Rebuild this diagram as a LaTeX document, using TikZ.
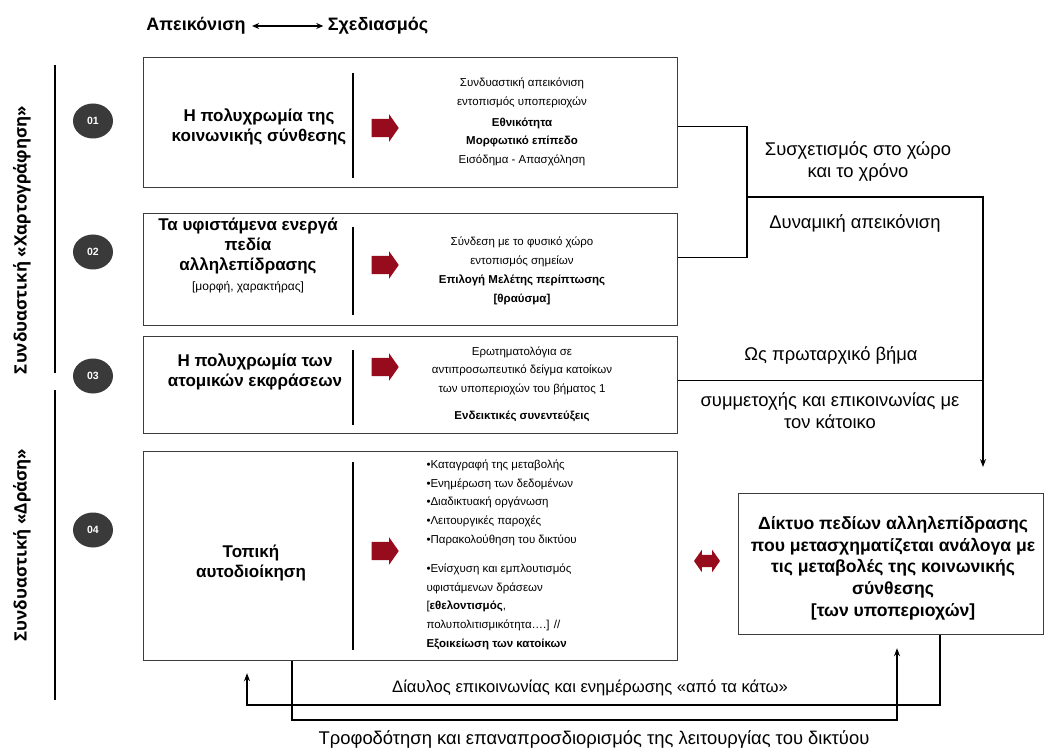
\documentclass[tikz,border=0pt]{standalone}
\usepackage{fontspec}
\setmainfont{Liberation Sans}
\newfontfamily\sidefont{Open Sans}
\usetikzlibrary{calc,shapes,arrows.meta,positioning}
\definecolor{arrowred}{RGB}{150,12,28}
\definecolor{discgray}{RGB}{58,58,58}
\definecolor{framegray}{RGB}{60,60,60}

\begin{document}
\begin{tikzpicture}[x=1pt,y=-1pt,
  frame/.style={draw=framegray,line width=1.2pt,anchor=north west,inner sep=0pt,minimum width=534pt},
  lefttext/.style={align=center,font=\bfseries\fontsize{17}{20}\selectfont},
  righttext/.style={align=center,font=\fontsize{11.5}{18.8}\selectfont},
  disc/.style={ellipse,fill=discgray,minimum width=40pt,minimum height=35pt,inner sep=0pt,
    text=white,font=\bfseries\fontsize{10.5}{12}\selectfont},
  blockarrow/.style={single arrow,fill=arrowred,minimum height=27pt,inner xsep=0pt,inner ysep=9pt,
    single arrow head extend=4.5pt,single arrow tip angle=110},
  sidelabel/.style={rotate=90,font=\sidefont\bfseries\fontsize{17}{19}\selectfont},
  note/.style={align=center,font=\fontsize{18.4}{22}\selectfont},
  link/.style={line width=1.1pt}]
  \useasboundingbox (0,0) rectangle (1049,751);

  % top
  \node[font=\bfseries\fontsize{18}{20}\selectfont] (apeik) at (196,26) {Απεικόνιση};
  \node[font=\bfseries\fontsize{18}{20}\selectfont] (sxedias) at (378,26) {Σχεδιασμός};
  \draw[link,{Stealth[length=7pt,width=6pt]}-{Stealth[length=7pt,width=6pt]}]
    ([xshift=3pt]apeik.east) -- ([xshift=-1pt]sxedias.west);

  % side labels
  \node[sidelabel] (mapping) at (22,240) {Συνδυαστική «Χαρτογράφηση»};
  \node[sidelabel] (action) at (22,545) {Συνδυαστική «Δράση»};
  \draw[link] (55,65) -- (55,373);
  \draw[link] (55,390) -- (55,700);

  % frames
  \node[frame,minimum height=130pt] (box1) at (143,57) {};
  \node[frame,minimum height=112pt] (box2) at (143,213) {};
  \node[frame,minimum height=97pt] (box3) at (143,336) {};
  \node[frame,minimum height=209pt] (box4) at (143,451) {};
  \draw[link] (353,73) -- (353,178);
  \draw[link] (353,227) -- (353,315);
  \draw[link] (353,350) -- (353,425);
  \draw[link] (353,462) -- (353,650);

  % numbers
  \foreach \num/\ypos in {01/121,02/252,03/376,04/530}
    \node[disc] (disc\num) at (93,\ypos) {\num};

  % red arrows
  \foreach \idx/\ypos in {1/128,2/265,3/367,4/551}
    \node[blockarrow] (arr\idx) at (382,\ypos) {};

  % left texts
  \node[lefttext] (t1) at (259,127) {Η πολυχρωμία της\\κοινωνικής σύνθεσης};
  \node[lefttext] (t2) at (248,255) {Τα υφιστάμενα ενεργά\\πεδία\\αλληλεπίδρασης\\
    {\normalfont\fontsize{12}{14}\selectfont [μορφή, χαρακτήρας]}};
  \node[lefttext] (t3) at (255,372) {Η πολυχρωμία των\\ατομικών εκφράσεων};
  \node[lefttext] (t4) at (251,563) {Τοπική\\αυτοδιοίκηση};

  % right texts
  \node[righttext] (r1) at (522,122) {Συνδυαστική απεικόνιση\\εντοπισμός υποπεριοχών\\[2pt]
    \textbf{Εθνικότητα}\\\textbf{Μορφωτικό επίπεδο}\\Εισόδημα - Απασχόληση};
  \node[righttext] (r2) at (522,271) {Σύνδεση με το φυσικό χώρο\\εντοπισμός σημείων\\
    \textbf{Επιλογή Μελέτης περίπτωσης}\\\textbf{[θραύσμα]}};
  \node[righttext] (r3) at (522,384) {Ερωτηματολόγια σε\\αντιπροσωπευτικό δείγμα κατοίκων\\
    των υποπεριοχών του βήματος 1\\[8pt]\textbf{Ενδεικτικές συνεντεύξεις}};
  \node[righttext,align=left,anchor=north west] (r4) at (423,456) {•Καταγραφή της μεταβολής\\
    •Ενημέρωση των δεδομένων\\•Διαδικτυακή οργάνωση\\•Λειτουργικές παροχές\\
    •Παρακολούθηση του δικτύου\\[10pt]•Ενίσχυση και εμπλουτισμός\\υφιστάμενων δράσεων\\
    {}[\textbf{εθελοντισμός},\\πολυπολιτισμικότητα….] //\\\textbf{Εξοικείωση των κατοίκων}};

  % network box
  \node[draw=framegray,line width=1.2pt,anchor=north west,minimum width=305pt,minimum height=141pt,
    inner sep=0pt] (net) at (738,493) {};
  \node[align=center,font=\bfseries\fontsize{17.6}{21.8}\selectfont] (nettext)
    at ([xshift=2pt,yshift=-4pt]net.center)
    {Δίκτυο πεδίων αλληλεπίδρασης\\που μετασχηματίζεται ανάλογα με\\τις μεταβολές της κοινωνικής\\
    σύνθεσης\\{}[των υποπεριοχών]};
  \node[double arrow,fill=arrowred,minimum height=26pt,inner xsep=0pt,inner ysep=6pt,
    double arrow head extend=5pt,double arrow tip angle=110] (twoway) at (707,561) {};

  % connectors
  \coordinate (join) at (747,197);
  \coordinate (drop) at (983,197);
  \draw[link] ([yshift=-4pt]box1.east) -| (join) |- ([yshift=12pt]box2.east);
  \draw[link,-{Stealth[length=8pt,width=6pt]},shorten >=26pt] (join) -- (drop) -- (drop |- net.north);
  \draw[link] ([yshift=4.5pt]box3.east) -- ([yshift=4.5pt]box3.east -| drop);

  \node[note] (corr) at (858,161) {Συσχετισμός στο χώρο\\και το χρόνο};
  \node[note] (dyn) at (855,223) {Δυναμική απεικόνιση};
  \node[note] (first) at (831,355) {Ως πρωταρχικό βήμα};
  \node[note] (partic) at (830,411) {συμμετοχής και επικοινωνίας με\\τον κάτοικο};

  % bottom loops
  \coordinate (upR) at (940,705);
  \coordinate (upL) at (247,705);
  \coordinate (dnL) at (292,720);
  \coordinate (dnR) at (897,720);
  \draw[link,-{Stealth[length=8pt,width=6pt]},shorten >=12pt]
    (net.south -| upR) -- (upR) -- (upL) -- (upL |- box4.south);
  \draw[link,-{Stealth[length=8pt,width=6pt]},shorten >=13pt]
    (box4.south -| dnL) -- (dnL) -- (dnR) -- (dnR |- net.south);
  \node[note,font=\fontsize{16.6}{20}\selectfont] (channel) at (590,688)
    {Δίαυλος επικοινωνίας και ενημέρωσης «από τα κάτω»};
  \node[note,font=\fontsize{18.4}{20}\selectfont] (feed) at (594,739)
    {Τροφοδότηση και επαναπροσδιορισμός της λειτουργίας του δικτύου};
\end{tikzpicture}
\end{document}
